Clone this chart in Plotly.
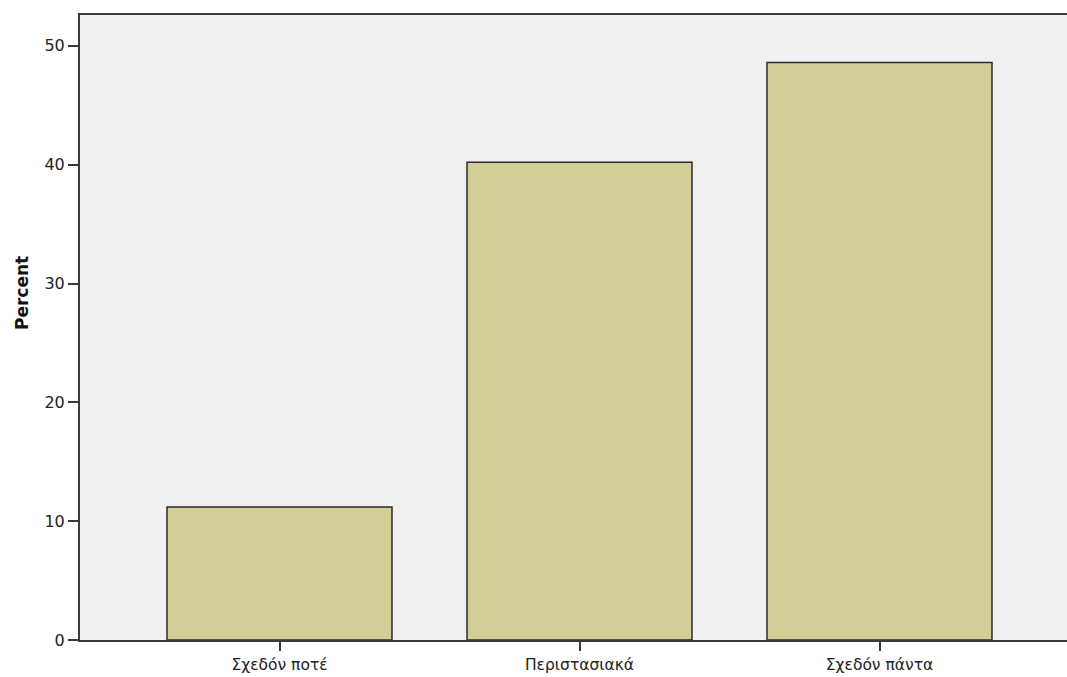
import plotly.graph_objects as go

categories = ["Σχεδόν ποτέ", "Περιστασιακά", "Σχεδόν πάντα"]
percent = [11.2, 40.2, 48.6]
y_ticks = [0, 10, 20, 30, 40, 50]

fig = go.Figure(go.Bar(
    x=[0, 1, 2], y=percent, width=0.75,
    marker=dict(color="#D3CE98", line=dict(color="#2b2b2b", width=1.5)),
))

fig.update_layout(
    width=1067, height=677,
    margin=dict(l=80, r=0, t=15, b=37),
    plot_bgcolor="#F0F0F0", paper_bgcolor="white",
    showlegend=False,
    font=dict(family="DejaVu Sans", size=14, color="#222"),
    annotations=[dict(
        text="<b>Percent</b>", textangle=-90, showarrow=False,
        xref="paper", x=0, xanchor="center", xshift=-58,
        yref="y", y=29.2, yanchor="middle",
        font=dict(size=17, color="#111"),
    )],
)
fig.update_xaxes(
    range=[-0.665, 2.625], tickvals=[0, 1, 2], ticktext=categories,
    showline=True, linecolor="#3a3a3a", linewidth=2, mirror=True,
    ticks="outside", ticklen=9, tickcolor="#3a3a3a", tickwidth=2,
    showgrid=False, zeroline=False, tickfont=dict(size=15.5),
)
fig.update_yaxes(
    range=[0, 52.6], tickvals=y_ticks,
    showline=True, linecolor="#3a3a3a", linewidth=2,
    ticks="outside", ticklen=10, tickcolor="#3a3a3a", tickwidth=2,
    showgrid=False, zeroline=False, tickfont=dict(size=16),
)
fig.write_html(
    "out.html",
    config={"displayModeBar": False},
    post_script="document.body.style.margin='0';document.body.style.overflow='hidden';",
)
